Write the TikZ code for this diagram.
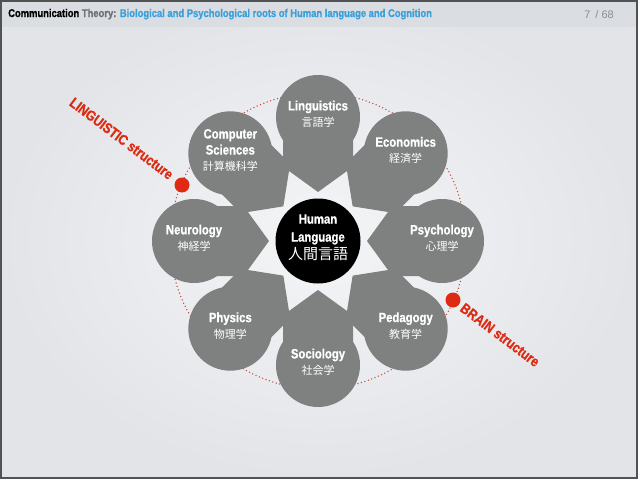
\documentclass[tikz,border=0pt]{standalone}
\usepackage{fontspec}
\setmainfont{Liberation Sans}
\newfontfamily\heavy[FakeStretch=0.84,FakeBold=0.8]{Liberation Sans Bold}
\newfontfamily\cjk{Noto Sans CJK JP}
\definecolor{bgc}{RGB}{236,238,241}
\definecolor{bgedge}{RGB}{226,228,232}
\definecolor{hdrc}{RGB}{218,221,225}
\definecolor{framec}{RGB}{80,82,84}
\definecolor{cgrey}{RGB}{126,129,127}
\definecolor{redc}{RGB}{222,42,18}
\definecolor{ringc}{RGB}{205,70,55}
\definecolor{hdrblue}{RGB}{58,160,220}
\definecolor{hdrgrey}{RGB}{110,112,115}
\definecolor{pgrey}{RGB}{140,142,145}
\tikzset{
  outer/.style={circle, fill=cgrey, minimum size=84pt, inner sep=0pt, text=white, align=center,
    text depth=7pt, font=\heavy\fontsize{13.5}{16}\selectfont},
  hub/.style={circle, fill=black, minimum size=85pt, inner sep=0pt, text=white, align=center,
    text depth=8pt, font=\heavy\fontsize{13.5}{18}\selectfont},
  reddot/.style={circle, fill=redc, minimum size=15pt, inner sep=0pt},
  redlabel/.style={text=redc, font=\heavy\fontsize{14.5}{16}\selectfont, rotate=-37, inner sep=0pt},
  ring/.style={ringc, line width=1.5pt, line cap=round, dash pattern=on 0pt off 3.6pt},
  arrowshape/.style={fill=cgrey}
}
\newcommand{\jp}[1]{{\cjk\fontsize{11}{16}\selectfont #1}}
\begin{document}
\begin{tikzpicture}[x=1pt,y=-1pt]
\useasboundingbox (0,0) rectangle (638,479);
% background
\shade[inner color=bgc!60!white, outer color=bgedge] (0,0) rectangle (638,479);
\fill[hdrc] (0,0) rectangle (638,27);
\draw[framec, line width=1.6pt] (0.8,0.8) rectangle (637.2,478.2);
% header
\node[anchor=base west, inner sep=0pt, font=\heavy\fontsize{11.2}{13}\selectfont] (title) at (8,17)
  {Communication \textcolor{hdrgrey}{Theory:} \textcolor{hdrblue}{Biological and Psychological roots of Human language and Cognition}};
\node[anchor=base east, inner sep=0pt, text=pgrey, font=\fontsize{11}{13}\selectfont] (page) at (614,18) {7 \,/ 68};
% dotted ring
\coordinate (c) at (318,241);
\draw[ring] (c) circle[radius=148pt];
% arrows
\foreach \a in {0,45,...,315}{
  \fill[arrowshape, shift={(318,241)}, rotate=\a]
    (49,0) -- (78,40) -- (78,35) -- (124,35) -- (124,-35) -- (78,-35) -- (78,-40) -- cycle;
}
% outer circles
\node[outer] (ling) at (318,117) {Linguistics\\\jp{言語学}};
\node[outer] (econ) at (405.7,153.3) {Economics\\\jp{経済学}};
\node[outer] (psych) at (442,241) {Psychology\\\jp{心理学}};
\node[outer] (peda) at (405.7,328.7) {Pedagogy\\\jp{教育学}};
\node[outer] (soc) at (318,365) {Sociology\\\jp{社会学}};
\node[outer] (phys) at (230.3,328.7) {Physics\\\jp{物理学}};
\node[outer] (neuro) at (194,241) {Neurology\\\jp{神経学}};
\node[outer] (comp) at (230.3,153.3) {Computer\\Sciences\\\jp{計算機科学}};
% hub
\node[hub] (hl) at (318,241) {Human\\Language\\{\cjk\fontsize{15}{18}\selectfont 人間言語}};
% red markers
\node[reddot] (ldot) at (182,185) {};
\node[reddot] (bdot) at (453,300) {};
\node[redlabel] (ltext) at (121.5,138.5) {LINGUISTIC structure};
\node[redlabel] (btext) at (500,335) {BRAIN structure};
\end{tikzpicture}
\end{document}
